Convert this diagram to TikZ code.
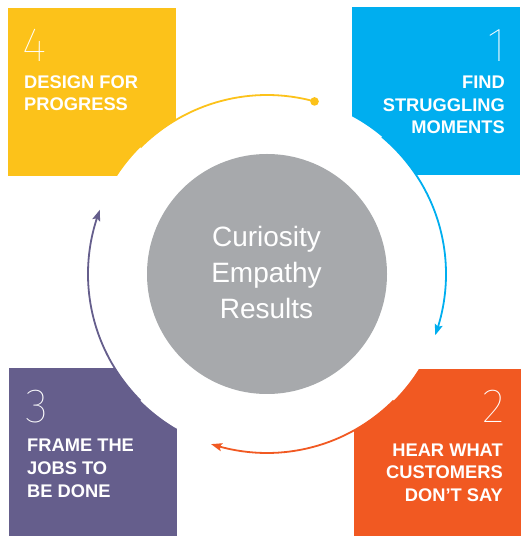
\documentclass[tikz,border=0pt]{standalone}
\usepackage{fontspec}
\setmainfont{Liberation Sans}
\IfFontExistsTF{Fira Sans Thin}{\newfontfamily\thinfont{Fira Sans Thin}}{%
 \IfFontExistsTF{Lato Hairline}{\newfontfamily\thinfont{Lato Hairline}}{%
  \IfFontExistsTF{Poppins Thin}{\newfontfamily\thinfont{Poppins Thin}}{%
   \IfFontExistsTF{Fira Sans Light}{\newfontfamily\thinfont{Fira Sans Light}}{%
    \IfFontExistsTF{Lato Light}{\newfontfamily\thinfont{Lato Light}}{%
     \newfontfamily\thinfont{Liberation Sans}}}}}}
\usetikzlibrary{arrows.meta,bending}
\definecolor{cyel}{RGB}{252,194,26}
\definecolor{cblu}{RGB}{0,174,239}
\definecolor{cora}{RGB}{241,89,34}
\definecolor{cpur}{RGB}{101,94,140}
\definecolor{cgry}{RGB}{167,169,172}
\tikzset{
  card/.style={fill=#1, draw=none},
  numtxt/.style={text=white, inner sep=0pt, font=\thinfont\fontsize{48}{48}\selectfont},
  lbl/.style={text=white, inner sep=0pt, font=\bfseries\fontsize{18.3}{22}\selectfont},
  ctr/.style={text=white, inner sep=0pt, anchor=base, font=\fontsize{28}{36}\selectfont},
  ring/.style={line width=1.8pt, draw=#1},
  tip/.style={-{Stealth[length=11pt,width=8pt,inset=2pt,bend]}}
}
\begin{document}
\begin{tikzpicture}[x=1pt,y=1pt]
\useasboundingbox (0,0) rectangle (530,546);
% cards
\fill[card=cyel] (8,370) rectangle (176,538);
\fill[card=cblu] (352,371) rectangle (520,539);
\fill[card=cpur] (9,10) rectangle (177,178);
\fill[card=cora] (354,10) rectangle (521,177);
% rings
\coordinate (c) at (267,272);
\node[circle, fill=white, minimum size=358pt, inner sep=0pt] (wring) at (c) {};
\node[circle, fill=cgry, minimum size=240pt, inner sep=0pt] (hub) at (c) {};
% arcs
\draw[ring=cyel] (c) ++(74.6:179pt) coordinate (ydot) arc[start angle=74.6, end angle=135, radius=179pt];
\fill[cyel] (ydot) circle (4.3pt);
\draw[ring=cblu, tip] (c) ++(50:179pt) arc[start angle=50, end angle=-20, radius=179pt];
\draw[ring=cora, tip] (c) ++(-45:179pt) arc[start angle=-45, end angle=-108.2, radius=179pt];
\draw[ring=cpur, tip] (c) ++(225:179pt) arc[start angle=225, end angle=159, radius=179pt];
% centre text
\node[ctr] (t1) at (266.5,299) {Curiosity};
\node[ctr] (t2) at (266.5,263) {Empathy};
\node[ctr] (t3) at (266.5,227) {Results};
% yellow card
\node[numtxt, anchor=base west] (n4) at (22,484) {4};
\node[lbl, anchor=base west] (y1) at (24,457) {DESIGN FOR};
\node[lbl, anchor=base west] (y2) at (24,435) {PROGRESS};
% blue card
\node[numtxt, anchor=base east] (n1) at (507,484) {1};
\node[lbl, anchor=base east] (b1) at (505,457) {FIND};
\node[lbl, anchor=base east] (b2) at (505,434) {STRUGGLING};
\node[lbl, anchor=base east] (b3) at (505,412) {MOMENTS};
% purple card
\node[numtxt, anchor=base west] (n3) at (25,123) {3};
\node[lbl, anchor=base west] (p1) at (27,94) {FRAME THE};
\node[lbl, anchor=base west] (p2) at (27,71) {JOBS TO};
\node[lbl, anchor=base west] (p3) at (27,48) {BE DONE};
% orange card
\node[numtxt, anchor=base east] (n2) at (505,123) {2};
\node[lbl, anchor=base east] (o1) at (503,89) {HEAR WHAT};
\node[lbl, anchor=base east] (o2) at (503,67) {CUSTOMERS};
\node[lbl, anchor=base east] (o3) at (503,44) {DON’T SAY};
\end{tikzpicture}
\end{document}
